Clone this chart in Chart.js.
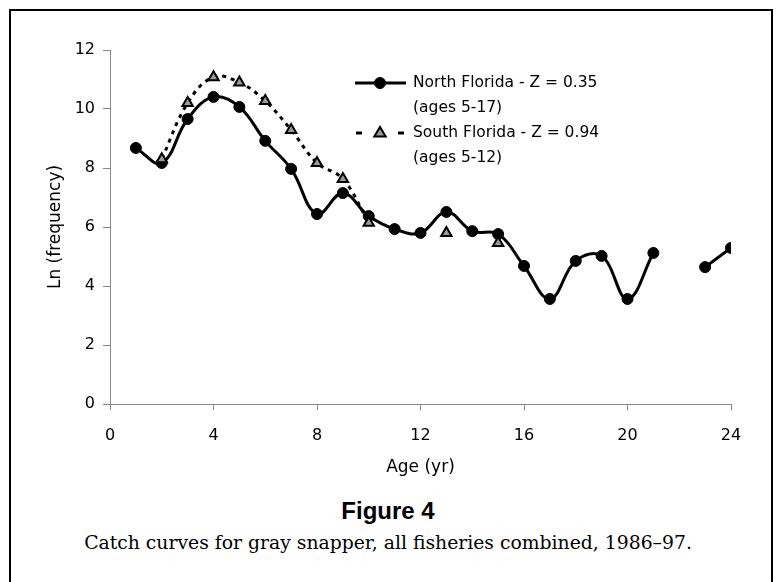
<!DOCTYPE html>
<html>
<head>
<meta charset="utf-8">
<script src="https://cdn.jsdelivr.net/npm/chart.js@4.4.1/dist/chart.umd.min.js"></script>
<style>
  html, body { margin: 0; padding: 0; background: #fff; }
  #wrap { position: relative; width: 776px; height: 582px; overflow: hidden; }
  #frame {
    position: absolute; left: 9px; top: 9px; width: 764px; height: 600px;
    border: 2.5px solid #000; box-sizing: border-box;
  }
  #chart { position: absolute; left: 0; top: 0; }
  .fig {
    position: absolute; left: 0; width: 776px; text-align: center; color: #000;
  }
  #figTitle { top: 497px; font: bold 24px "Liberation Sans", Arial, sans-serif; }
  #figCaption { top: 532px; font: 18.8px "DejaVu Serif", serif; }
</style>
</head>
<body>
<div id="wrap">
  <div id="frame"></div>
  <canvas id="chart" width="776" height="490"></canvas>
  <div class="fig" id="figTitle">Figure 4</div>
  <div class="fig" id="figCaption">Catch curves for gray snapper, all fisheries combined, 1986–97.</div>
</div>
<script>
// --- dados ---
const ages = [1, 2, 3, 4, 5, 6, 7, 8, 9, 10, 11, 12, 13, 14, 15, 16, 17, 18, 19, 20, 21, 22, 23, 24];
const northFlorida = [8.68, 8.17, 9.66, 10.41, 10.07, 8.92, 7.97, 6.44, 7.15, 6.37, 5.93, 5.8,
                      6.51, 5.86, 5.76, 4.68, 3.56, 4.85, 5.02, 3.56, 5.12, null, 4.64, 5.29];
const southFlorida = [null, 8.3, 10.2, 11.08, 10.9, 10.27, 9.29, 8.17, 7.63, 6.14, null, null,
                      5.8, null, 5.46, null, null, null, null, null, null, null, null, null];
const xTicks = [0, 4, 8, 12, 16, 20, 24];
const yTicks = [0, 2, 4, 6, 8, 10, 12];
const legendNames = ['North Florida - Z = 0.35', 'South Florida - Z = 0.94'];
const legendNotes = ['(ages 5-17)', '(ages 5-12)'];

const toPoints = (vals) => ages.map((a, i) => ({ x: a, y: vals[i] }));

// Legenda desenhada à mão (duas linhas por série)
const legendPlugin = {
  id: 'twoLineLegend',
  afterDraw(chart) {
    const ctx = chart.ctx;
    const rows = [83, 133];
    ctx.save();
    chart.data.datasets.forEach((ds, i) => {
      const y = rows[i];
      ctx.strokeStyle = ds.borderColor;
      ctx.lineWidth = ds.borderWidth;
      if (ds.borderDash) {
        ctx.beginPath(); ctx.moveTo(356, y); ctx.lineTo(362, y); ctx.stroke();
        ctx.beginPath(); ctx.moveTo(398, y); ctx.lineTo(404, y); ctx.stroke();
      } else {
        ctx.beginPath(); ctx.moveTo(355, y); ctx.lineTo(406, y); ctx.stroke();
      }
      ctx.fillStyle = ds.pointBackgroundColor;
      ctx.strokeStyle = ds.pointBorderColor;
      ctx.lineWidth = ds.pointBorderWidth;
      ctx.beginPath();
      if (ds.pointStyle === 'triangle') {
        const r = ds.pointRadius;
        ctx.moveTo(380, y - r);
        ctx.lineTo(380 + r * 0.95, y + r * 0.6);
        ctx.lineTo(380 - r * 0.95, y + r * 0.6);
        ctx.closePath();
      } else {
        ctx.arc(380, y, ds.pointRadius, 0, Math.PI * 2);
      }
      ctx.fill(); ctx.stroke();
      ctx.fillStyle = '#000';
      ctx.font = '15.5px "DejaVu Sans", sans-serif';
      ctx.textBaseline = 'middle';
      ctx.textAlign = 'left';
      ctx.fillText(legendNames[i], 413, y);
      ctx.fillText(legendNotes[i], 413, y + 25);
    });
    ctx.restore();
  }
};

Chart.defaults.font.family = '"DejaVu Sans", sans-serif';
Chart.defaults.font.size = 16;
Chart.defaults.color = '#000';

new Chart(document.getElementById('chart'), {
  type: 'line',
  data: {
    datasets: [
      {
        label: legendNames[0],
        data: toPoints(northFlorida),
        borderColor: '#000',
        borderWidth: 3,
        tension: 0.4,
        pointStyle: 'circle',
        pointRadius: 5.5,
        pointBackgroundColor: '#000',
        pointBorderColor: '#000',
        pointBorderWidth: 1,
        spanGaps: false,
        order: 2
      },
      {
        label: legendNames[1],
        data: toPoints(southFlorida),
        borderColor: '#000',
        borderWidth: 3,
        borderDash: [4, 5],
        tension: 0.4,
        pointStyle: 'triangle',
        pointRadius: 6,
        pointBackgroundColor: '#9a9a9a',
        pointBorderColor: '#000',
        pointBorderWidth: 2,
        spanGaps: false,
        order: 1
      }
    ]
  },
  options: {
    responsive: false,
    animation: false,
    devicePixelRatio: 1,
    layout: { padding: { left: 0, right: 45, top: 50, bottom: 0 } },
    plugins: { legend: { display: false }, tooltip: { enabled: false } },
    scales: {
      x: {
        type: 'linear',
        min: 0, max: 24,
        afterFit: (s) => { s.height = 86; },
        afterBuildTicks: (s) => { s.ticks = xTicks.map(v => ({ value: v })); },
        grid: { drawOnChartArea: false, drawTicks: true, tickLength: 6, color: '#888' },
        border: { display: true, color: '#888', width: 1 },
        ticks: { padding: 16, font: { size: 16 } },
        title: { display: true, text: 'Age (yr)', font: { size: 17 }, padding: { top: 4, bottom: 12 } }
      },
      y: {
        min: 0, max: 12,
        afterFit: (s) => { s.width = 110; },
        afterBuildTicks: (s) => { s.ticks = yTicks.map(v => ({ value: v })); },
        grid: { drawOnChartArea: false, drawTicks: true, tickLength: 7, color: '#888' },
        border: { display: true, color: '#888', width: 1 },
        ticks: { padding: 8, font: { size: 16 } },
        title: { display: true, text: 'Ln (frequency)', font: { size: 17 }, padding: { top: 45, bottom: 0 } }
      }
    }
  },
  plugins: [legendPlugin]
});
</script>
</body>
</html>
